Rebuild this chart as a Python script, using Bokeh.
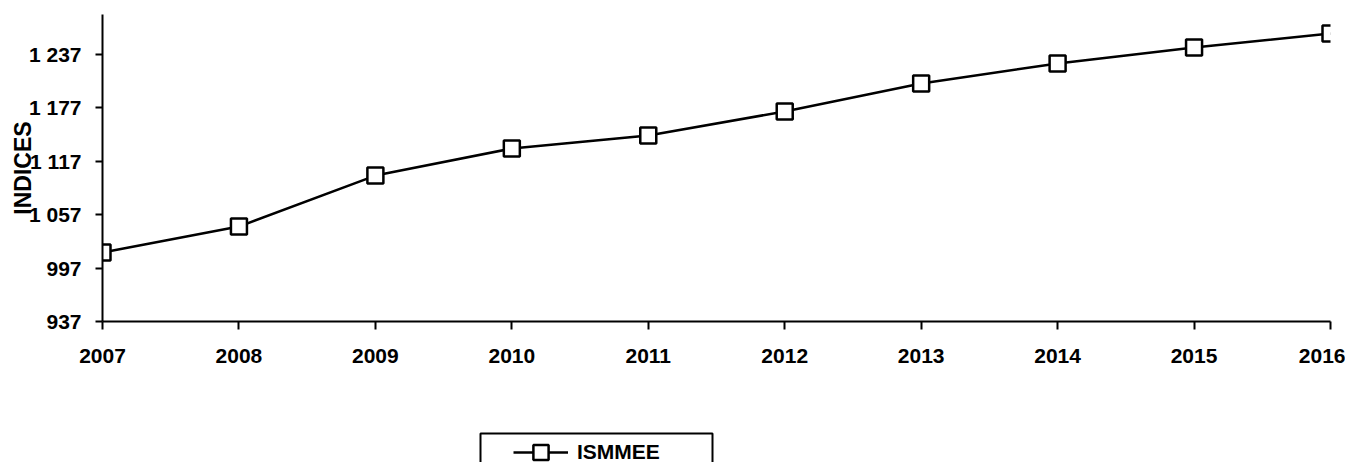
from bokeh.plotting import figure
from bokeh.layouts import column
from bokeh.models import FixedTicker, Range1d, Legend, LegendItem, BoxAnnotation
from bokeh.embed import file_html
from bokeh.resources import INLINE

years = [2007, 2008, 2009, 2010, 2011, 2012, 2013, 2014, 2015, 2016]
ismmee = [1014.5, 1043.7, 1101.0, 1131.4, 1146.0, 1173.0, 1204.4, 1227.0, 1245.0, 1260.6]
y_ticks = [937, 997, 1057, 1117, 1177, 1237]
y_tick_labels = ["937", "997", "1 057", "1 117", "1 177", "1 237"]
x_tick_labels = ["2007", "2008", "2009", "2010", "2011", "2012", "2013", "2014", "2015", "2016"]
series_name = "ISMMEE"
y_title = "INDICES"

FONT = "Liberation Sans"

p = figure(width=1345, height=420, output_backend="svg", toolbar_location=None,
           x_range=Range1d(2007, 2016), y_range=Range1d(937, 1282),
           min_border_left=102, min_border_right=15, min_border_top=14, min_border_bottom=99)
p.outline_line_color = None
p.xgrid.visible = False
p.ygrid.visible = False

p.line(years, ismmee, line_color="black", line_width=2.5)
p.scatter(years, ismmee, marker="square", size=16, line_color="black",
          line_width=2.5, fill_color="white")

xa = p.xaxis[0]
xa.ticker = FixedTicker(ticks=years)
xa.major_label_overrides = {y: l for y, l in zip(years, x_tick_labels)}
xa.minor_tick_line_color = None
xa.major_tick_in = 0
xa.major_tick_out = 8
xa.major_tick_line_width = 2
xa.axis_line_width = 2
xa.major_label_standoff = 19
xa.major_label_text_font = FONT
xa.major_label_text_font_style = "bold"
xa.major_label_text_font_size = "21px"
xa.major_label_text_color = "black"

ya = p.yaxis[0]
ya.ticker = FixedTicker(ticks=y_ticks)
ya.major_label_overrides = {t: l for t, l in zip(y_ticks, y_tick_labels)}
ya.minor_tick_line_color = None
ya.major_tick_in = 0
ya.major_tick_out = 7
ya.major_tick_line_width = 2
ya.axis_line_width = 2
ya.major_label_standoff = 14
ya.major_label_text_font = FONT
ya.major_label_text_font_style = "bold"
ya.major_label_text_font_size = "21px"
ya.major_label_text_color = "black"
ya.axis_label = y_title
ya.axis_label_text_font = FONT
ya.axis_label_text_font_style = "bold"
ya.axis_label_text_font_size = "23px"
ya.axis_label_text_color = "black"
ya.axis_label_standoff = -10

# legend strip below the chart (series drawn off-range so only the legend shows)
q = figure(width=1345, height=42, output_backend="svg", toolbar_location=None,
           x_axis_type=None, y_axis_type=None,
           x_range=Range1d(0, 1), y_range=Range1d(0, 1),
           min_border_left=0, min_border_right=0, min_border_top=0, min_border_bottom=0)
q.outline_line_color = None
q.xgrid.visible = False
q.ygrid.visible = False
l_line = q.line(years, ismmee, line_color="black", line_width=2.5)
l_mark = q.scatter(years, ismmee, marker="square", size=16, line_color="black",
                   line_width=2.5, fill_color="white")

frame_box = BoxAnnotation(left=378, right=610, top=29, bottom=-20,
                          left_units="screen", right_units="screen",
                          top_units="screen", bottom_units="screen",
                          fill_alpha=0, line_color="black", line_alpha=1, line_width=2)
q.add_layout(frame_box)

legend = Legend(items=[LegendItem(label=series_name, renderers=[l_line, l_mark])],
                location=(411, -9), orientation="vertical",
                padding=0, glyph_width=55, glyph_height=38, label_standoff=9,
                label_text_font=FONT, label_text_font_style="bold",
                label_text_font_size="21px", label_text_color="black",
                border_line_color=None, background_fill_alpha=0)
q.add_layout(legend, "center")

layout = column(p, q, spacing=0)
open("out.html", "w").write(file_html(layout, INLINE))
